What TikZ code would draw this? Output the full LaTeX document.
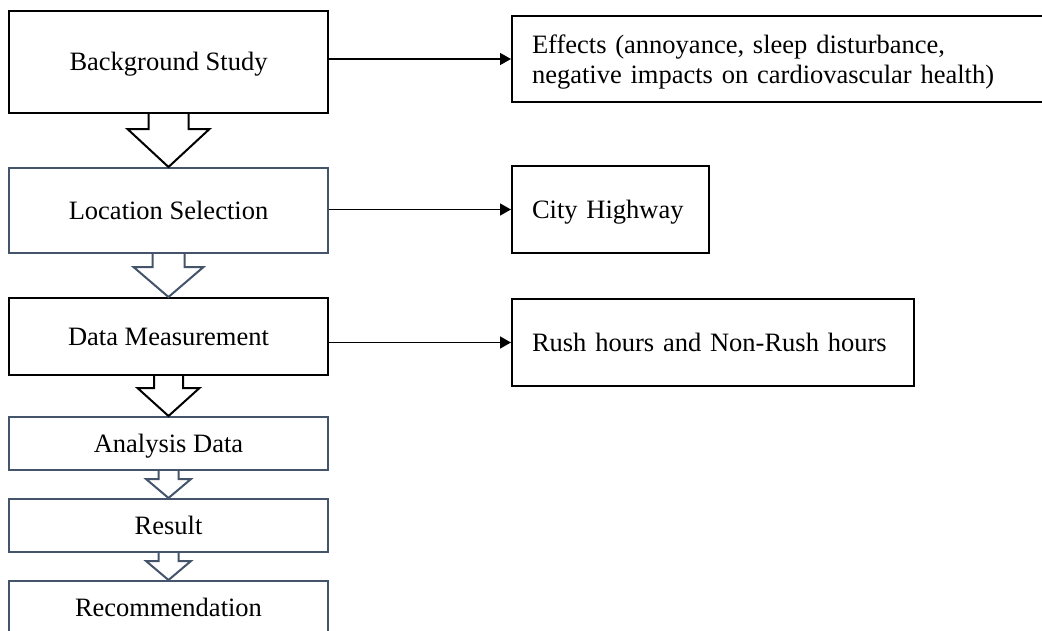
\documentclass[tikz,border=0pt]{standalone}
\usepackage{fontspec}
\setmainfont{Liberation Serif}
\usetikzlibrary{calc,arrows.meta}
\definecolor{slate}{RGB}{68,84,106}
\newcommand\blockarr[6]{%
  \draw[line width=2pt,#6,line join=miter]
    ($(#1.south)+(-#3,0)$) -- ($(#1.south)+(-#3,#4)$) -- ($(#1.south)+(-#5,#4)$)
    -- (#2.north) -- ($(#1.south)+(#5,#4)$) -- ($(#1.south)+(#3,#4)$) -- ($(#1.south)+(#3,0)$);}
\tikzset{
  txt/.style={font=\fontsize{26.5}{30}\selectfont},
  lbox/.style={txt, draw=black, line width=2pt, minimum width=319pt, inner sep=0pt,
    text height=23.8pt, text depth=6.4pt},
  sbox/.style={lbox, draw=slate},
  rbox/.style={txt, draw=black, line width=2pt, inner xsep=20pt, inner ysep=0pt, align=left},
  single/.style={text height=23.8pt, text depth=6.4pt},
  link/.style={line width=1.5pt, -{Triangle[length=11pt,width=12pt]}}
}
\begin{document}
\begin{tikzpicture}[x=1pt,y=-1pt]
\useasboundingbox (0,0) rectangle (1042,630);
\clip (0,0) rectangle (1042,630);
\fill[white] (0,0) rectangle (1042,630);
% left column
\node[lbox, minimum height=102pt] (bg)  at (168.5,62)    {Background Study};
\node[sbox, minimum height=85pt]  (loc) at (168.5,210.5) {Location Selection};
\node[lbox, minimum height=77pt]  (dm)  at (168.5,336.5) {Data Measurement};
\node[sbox, minimum height=53pt]  (ad)  at (168.5,443.5) {Analysis Data};
\node[sbox, minimum height=53pt]  (res) at (168.5,525.5) {Result};
\node[sbox, minimum height=53pt]  (rec) at (168.5,607.5) {Recommendation};
% right column
\node[rbox, minimum width=534pt, text width=494pt, minimum height=86pt, text height=24.5pt] (eff) at (779,59)
  {Effects (annoyance, sleep disturbance,\\negative impacts on cardiovascular health)};
\node[rbox, single, minimum width=197pt, text width=157pt, minimum height=87pt] (city) at (610.5,209.5) {City Highway};
\node[rbox, single, minimum width=402pt, text width=362pt, minimum height=87pt] (rush) at (713,342.5) {Rush hours and Non-Rush hours};
% block arrows
\blockarr{bg}{loc}{20}{15}{41}{black}
\blockarr{loc}{dm}{16}{13}{35}{slate}
\blockarr{dm}{ad}{14.5}{12}{31}{black}
\blockarr{ad}{res}{10}{8}{22.5}{slate}
\blockarr{res}{rec}{10}{8}{22.5}{slate}
% connectors
\draw[link] (eff.west -| bg.east) -- (eff.west);
\draw[link] (city.west -| loc.east) -- (city.west);
\draw[link] (rush.west -| dm.east) -- (rush.west);
\end{tikzpicture}
\end{document}
